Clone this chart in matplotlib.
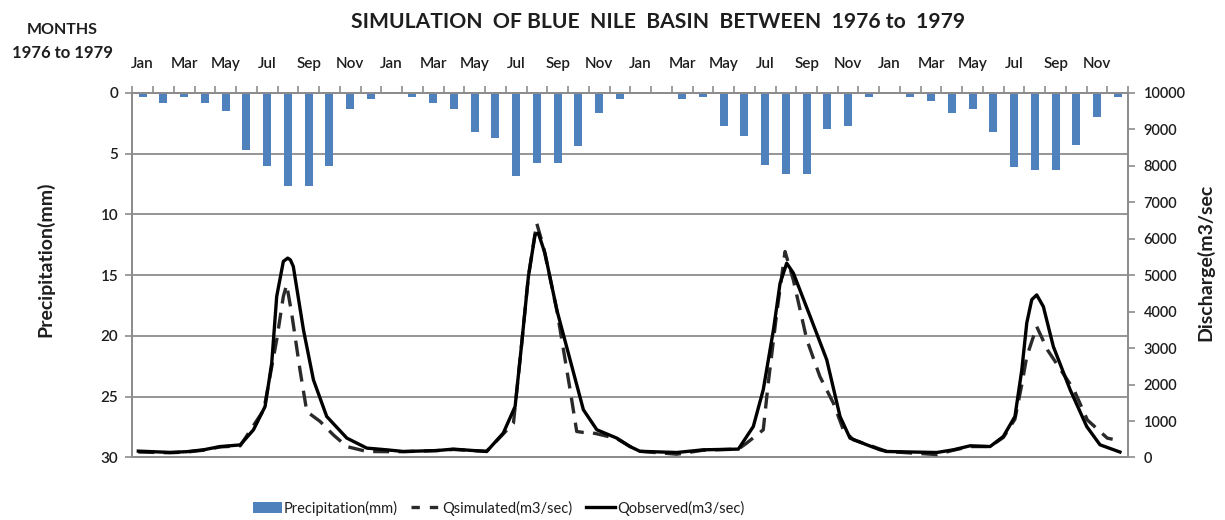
import matplotlib
matplotlib.use("Agg")
import matplotlib.pyplot as plt
from matplotlib.lines import Line2D
from matplotlib.patches import Patch

plt.rcParams['font.family'] = ['Lato', 'DejaVu Sans']

# ---------------- data ----------------
month_names = ['Jan', 'Feb', 'Mar', 'Apr', 'May', 'Jun',
               'Jul', 'Aug', 'Sep', 'Oct', 'Nov', 'Dec']
years = [1976, 1977, 1978, 1979]

precip = [0.3, 0.8, 0.3, 0.8, 1.5, 4.7, 6.0, 7.65, 7.65, 6.0, 1.35, 0.5,
          0.0, 0.3, 0.8, 1.35, 3.2, 3.7, 6.8, 5.75, 5.75, 4.4, 1.65, 0.5,
          0.0, 0.0, 0.5, 0.3, 2.7, 3.55, 5.95, 6.65, 6.65, 3.0, 2.7, 0.3,
          0.0, 0.3, 0.65, 1.65, 1.35, 3.2, 6.1, 6.3, 6.3, 4.25, 2.0, 0.3]

# time in months from start of Jan 1976
t_obs = [0.29, 1.82, 2.63, 3.43, 4.23, 5.20, 5.84, 6.40, 6.72, 6.96, 7.28, 7.49,
         7.62, 7.76, 8.25, 8.73, 9.37, 10.34, 11.30, 12.27, 13.07, 14.67, 15.47, 17.08,
         17.88, 18.45, 18.77, 19.09, 19.41, 19.57, 19.89, 20.46, 21.10, 21.74,
         22.39, 23.35, 23.99, 24.47, 26.24, 27.52, 29.21, 29.93, 30.41, 30.90,
         31.22, 31.54, 31.86, 32.67, 33.47, 34.11, 34.59, 35.40, 36.04, 36.36,
         38.77, 39.57, 40.38, 41.34, 41.98, 42.54, 42.87, 43.11, 43.35, 43.59,
         43.91, 44.39, 45.20, 46.00, 46.64, 47.60]
q_obs = [175, 140, 160, 211, 300, 345, 760, 1400, 2590, 4420, 5380, 5470,
         5420, 5240, 3500, 2130, 1125, 532, 258, 210, 165, 190, 230, 165,
         670, 1400, 3140, 4965, 6110, 6155, 5600, 4050, 2680, 1310,
         760, 532, 300, 170, 137, 211, 230, 850, 1860, 3500,
         4780, 5330, 5060, 3870, 2680, 1125, 532, 348, 211, 165,
         137, 211, 321, 300, 576, 1125, 2400, 3690, 4330, 4460,
         4140, 3045, 1860, 850, 348, 150]

t_sim = [0.29, 1.82, 2.63, 3.43, 4.23, 5.20, 6.34, 6.96, 7.28, 7.44, 7.68, 8.08,
         8.41, 9.05, 9.69, 10.34, 11.30, 12.27, 13.07, 14.67, 15.47, 17.08,
         18.37, 18.77, 19.09, 19.49, 19.81, 20.46, 21.10, 21.42, 21.71, 22.07,
         22.39, 23.35, 23.99, 24.47, 26.24, 27.52, 29.21, 29.61, 30.41, 30.65,
         31.06, 31.46, 31.86, 32.51, 33.14, 33.79, 34.27, 34.75, 35.70, 36.36,
         38.77, 39.57, 40.38, 41.34, 41.98, 42.54, 42.87, 43.11, 43.59, 44.11,
         44.75, 45.38, 46.03, 46.99, 47.25]
q_sim = [150, 130, 150, 200, 290, 320, 1310, 3230, 4420, 4740, 3960, 2410,
         1260, 990, 620, 300, 165, 160, 160, 190, 220, 170,
         940, 3140, 4965, 6430, 5790, 4050, 1860, 713, 690, 686,
         650, 520, 300, 170, 90, 200, 230, 395, 760, 2040,
         3960, 5650, 4870, 3230, 2220, 1490, 760, 486, 300, 165,
         80, 200, 300, 300, 550, 1050, 2000, 2770, 3590, 2950,
         2400, 1860, 1030, 532, 500]

# ---------------- figure ----------------
grey = '#8c8c8c'
txt = '#1e1e1e'
fig = plt.figure(figsize=(12.25, 5.2), dpi=100)
ax = fig.add_axes([0.108, 0.1202, 0.813, 0.701])

n = len(precip)
centers = [k + 0.5 for k in range(n)]
ax.bar(centers, precip, width=0.38, color='#4F81BD', zorder=2)
ax.set_xlim(0, n)
ax.set_ylim(30, 0)
ax.set_yticks(range(0, 31, 5))
ax.yaxis.grid(True, color=grey, lw=1.3, zorder=0)
ax.set_axisbelow(True)

# top month axis
ax.xaxis.tick_top()
ax.set_xticks(range(n + 1))
ax.set_xticklabels([])
lab_pos = [k + 0.5 for k in range(0, n, 2)]
lab_txt = [month_names[k % 12] for k in range(0, n, 2)]
ax.set_xticks(lab_pos, minor=True)
ax.set_xticklabels(lab_txt, minor=True)
ax.tick_params(axis='x', which='major', direction='out', length=5, width=1.2,
               color=grey, top=True, bottom=False)
ax.tick_params(axis='x', which='minor', length=0, pad=16, labelsize=11,
               labelcolor=txt, top=True, bottom=False)
ax.tick_params(axis='y', which='major', direction='out', length=5, width=1.2,
               color=grey, labelsize=11, labelcolor=txt, pad=5)
for lbl in ax.get_xticklabels(minor=True) + ax.get_yticklabels():
    lbl.set_fontweight('semibold')

for s in ax.spines.values():
    s.set_color(grey)
    s.set_linewidth(1.3)

ax.set_ylabel('Precipitation(mm)', fontsize=14, fontweight='bold', color=txt)
ax.yaxis.set_label_coords(-0.0785, 0.545)

# discharge axis
ax2 = ax.twinx()
ax2.plot(t_sim, q_sim, color='#2a2a2a', lw=2.4, ls=(0, (4.8, 2.8)), zorder=3)
ax2.plot(t_obs, q_obs, color='black', lw=2.4, zorder=4)
ax2.set_ylim(0, 10000)
ax2.set_yticks(range(0, 10001, 1000))
ax2.tick_params(axis='y', direction='out', length=5, width=1.2, color=grey,
                labelsize=10.5, labelcolor=txt, pad=6)
for lbl in ax2.get_yticklabels():
    lbl.set_fontweight('semibold')
for s in ax2.spines.values():
    s.set_color(grey)
    s.set_linewidth(1.3)
ax2.set_ylabel('Discharge(m3/sec', fontsize=14, fontweight='bold', color=txt)
ax2.yaxis.set_label_coords(1.068, 0.534)

# titles
fig.text(658 / 1225, 1 - 22 / 520, 'SIMULATION  OF BLUE  NILE  BASIN  BETWEEN  1976 to  1979',
         ha='center', va='center', fontsize=15.2, fontweight='bold', color=txt)
fig.text(62 / 1225, 1 - 30 / 520, 'MONTHS', ha='center', va='center',
         fontsize=11.5, fontweight='bold', color=txt)
fig.text(62 / 1225, 1 - 53 / 520, '1976 to 1979', ha='center', va='center',
         fontsize=12, fontweight='bold', color=txt)

handles = [Patch(facecolor='#4F81BD', edgecolor='none'),
           Line2D([], [], color='#2a2a2a', lw=2.4, ls=(0, (2.5, 3))),
           Line2D([], [], color='black', lw=2.4)]
labels = ['Precipitation(mm)', 'Qsimulated(m3/sec)', 'Qobserved(m3/sec)']
fig.legend(handles, labels, loc='center', bbox_to_anchor=(0.407, 1 - 508 / 520),
           ncol=3, frameon=False, fontsize=10.5, handlelength=2.0,
           handletextpad=0.15, columnspacing=0.9, labelcolor=txt)

fig.savefig('out.png', dpi=100)
